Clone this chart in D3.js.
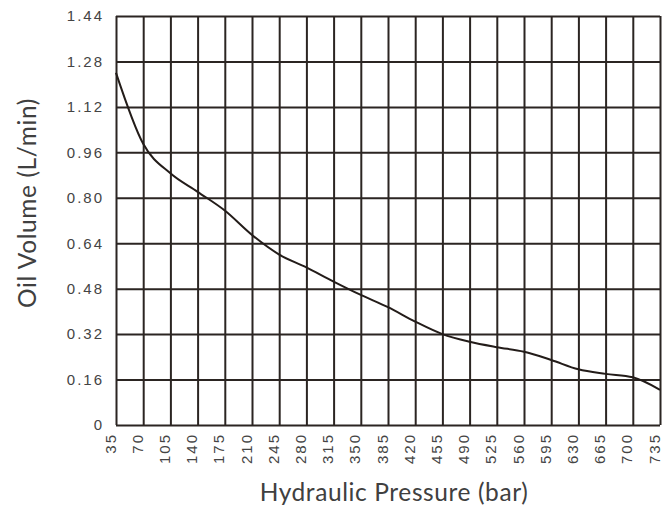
<!DOCTYPE html>
<html>
<head>
<meta charset="utf-8">
<script src="https://cdn.jsdelivr.net/npm/d3@7"></script>
<style>
  html, body { margin: 0; padding: 0; background: #fff; }
  svg { display: block; }
</style>
</head>
<body>
<script>
// ---- data ----
const pressureTicks = [35,70,105,140,175,210,245,280,315,350,385,420,455,490,525,560,595,630,665,700,735];
const volumeTicks = [0,0.16,0.32,0.48,0.64,0.80,0.96,1.12,1.28,1.44];
const volumeTickLabels = ["0","0.16","0.32","0.48","0.64","0.80","0.96","1.12","1.28","1.44"];
const pressure = [35,70,105,140,175,210,245,280,315,350,385,420,455,490,525,560,595,630,665,700,735];
const oilVolume = [1.24,0.99,0.886,0.821,0.755,0.669,0.600,0.555,0.505,0.458,0.415,0.364,0.320,0.293,0.274,0.258,0.229,0.196,0.180,0.168,0.124];
const xTitle = "Hydraulic Pressure (bar)";
const yTitle = "Oil Volume (L/min)";

// ---- layout ----
const W = 669, H = 510;
const m = {left: 116, top: 16, right: 9, bottom: 85};
const iw = W - m.left - m.right, ih = H - m.top - m.bottom;
const gridColor = "#2b2522";

const svg = d3.select("body").append("svg").attr("width", W).attr("height", H);

const x = d3.scaleLinear().domain([35, 735]).range([m.left, m.left + iw]);
const y = d3.scaleLinear().domain([0, 1.44]).range([m.top + ih, m.top]);

const tickFont = sel => sel
  .attr("fill", "#444")
  .style("font-family", "'Liberation Sans', Arial, sans-serif")
  .style("font-size", "15px")
  .style("letter-spacing", "2px");

// y axis with grid
const yAxis = svg.append("g")
  .attr("transform", `translate(${m.left},0)`)
  .call(d3.axisLeft(y).tickValues(volumeTicks).tickSize(-iw).tickPadding(12)
        .tickFormat((d,i) => volumeTickLabels[i]));
yAxis.select(".domain").remove();
yAxis.selectAll("line").attr("stroke", gridColor).attr("stroke-width", 2);
yAxis.selectAll("text").call(tickFont);

// x axis with grid
const xAxis = svg.append("g")
  .attr("transform", `translate(0,${m.top + ih})`)
  .call(d3.axisBottom(x).tickValues(pressureTicks).tickSize(-ih));
xAxis.select(".domain").remove();
xAxis.selectAll("line").attr("stroke", gridColor).attr("stroke-width", 2);
xAxis.selectAll("text")
  .attr("transform", "rotate(-90)")
  .attr("text-anchor", "end")
  .attr("x", -8)
  .attr("y", -1)
  .attr("dy", "0")
  .call(tickFont);

// curve
const line = d3.line()
  .x((d, i) => x(pressure[i]))
  .y(d => y(d))
  .curve(d3.curveMonotoneX);
svg.append("path")
  .datum(oilVolume)
  .attr("d", line)
  .attr("fill", "none")
  .attr("stroke", "#231c19")
  .attr("stroke-width", 2);

// titles
const titleFont = sel => sel
  .attr("text-anchor", "middle")
  .attr("fill", "#404040")
  .style("font-family", "Lato, 'Open Sans', sans-serif")
  .style("font-weight", "400")
  .style("font-size", "24.5px")
  .style("letter-spacing", "0.6px");

svg.append("text")
  .attr("x", 394).attr("y", 501)
  .call(titleFont)
  .text(xTitle);

svg.append("text")
  .attr("transform", "translate(36,203) rotate(-90)")
  .call(titleFont)
  .text(yTitle);
</script>
</body>
</html>
